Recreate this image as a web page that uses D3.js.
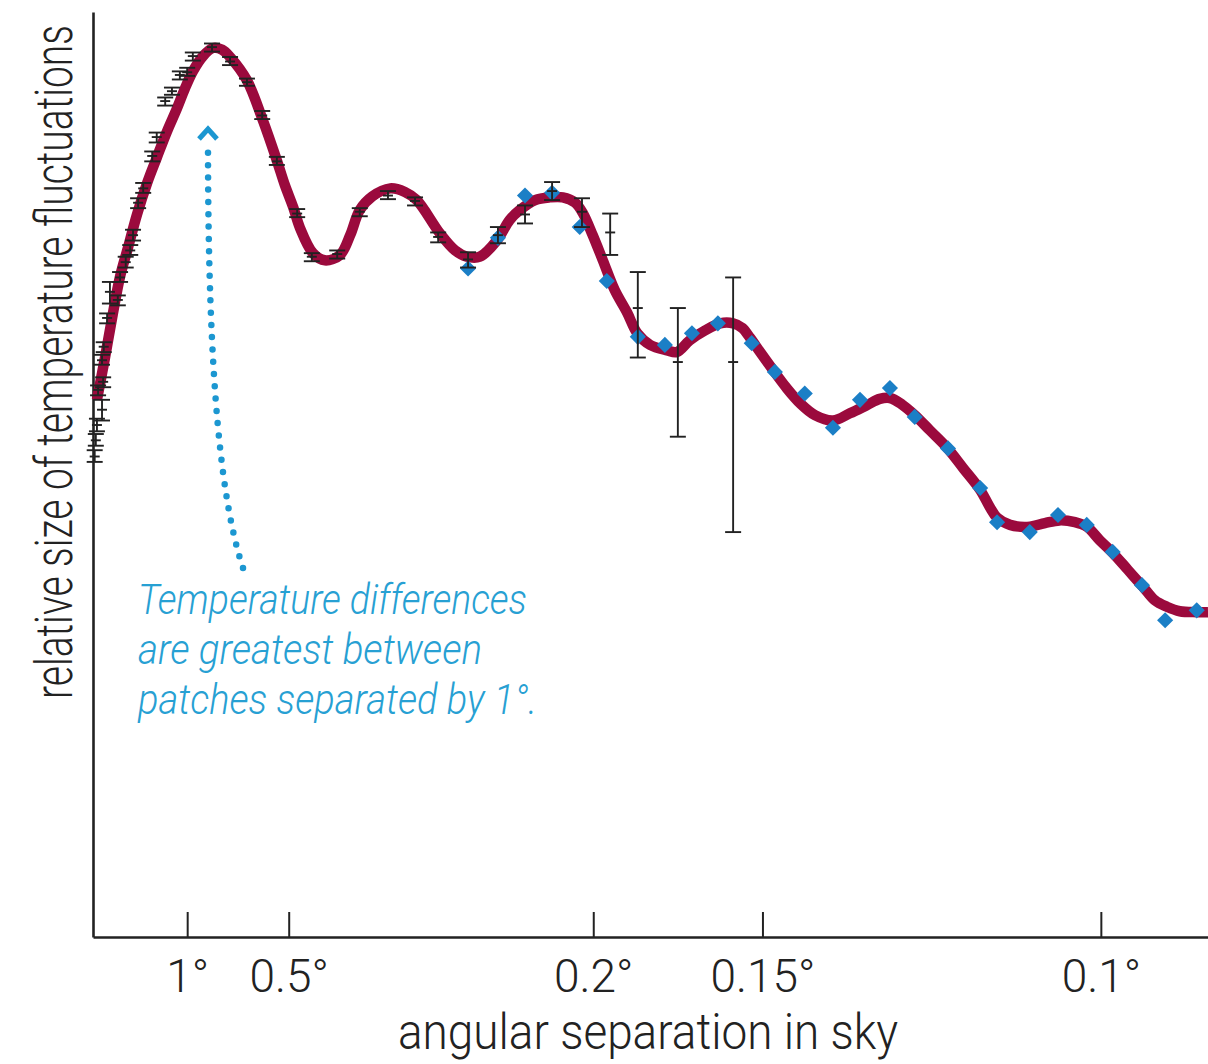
<!DOCTYPE html>
<html>
<head>
<meta charset="utf-8">
<script src="https://cdn.jsdelivr.net/npm/d3@7"></script>
<style>
  body { margin: 0; background: #fff; }
  svg text { font-family: Roboto, "Liberation Sans", sans-serif; font-weight: 300; }
</style>
</head>
<body>
<div id="chart"></div>
<script>
const width = 1208,
  height = 1064;

// model curve: multipole ell vs relative amplitude
const curveEll = [20, 34, 48, 61, 75, 91, 109, 126, 144, 162, 176, 190, 208, 226, 242, 256, 286, 314, 339, 353,
  368, 380, 403, 424, 451, 469, 486, 508, 540, 566, 587, 628, 655, 676, 699, 729, 752, 770, 797, 823,
  846, 868, 882, 899, 917, 938, 960, 978, 1001, 1031, 1048, 1071, 1098, 1125, 1148, 1164, 1178, 1196, 1219, 1243,
  1267, 1293, 1325, 1355, 1385, 1408, 1426, 1447, 1470, 1497, 1527, 1556, 1586, 1603, 1616, 1639, 1674, 1701, 1727, 1754,
  1775, 1798, 1821, 1848, 1875, 1896, 1917, 1940, 1970, 1990];
const curveVal = [59.7, 64.3, 69.2, 73.4, 76.6, 80.3, 83.8, 86.6, 89.5, 92.1, 94.3, 96.2, 97.9, 98.8, 98.6, 97.8, 95.2, 90.8, 86.3, 83.6,
  81.1, 78.8, 76.0, 75.2, 75.8, 78.0, 80.8, 82.3, 83.2, 82.8, 81.9, 78.2, 76.3, 75.6, 75.6, 77.4, 79.7, 80.8, 81.9, 82.2,
  82.2, 81.6, 80.4, 78.0, 75.2, 71.9, 69.4, 67.1, 65.8, 65.2, 65.0, 66.3, 67.4, 68.2, 68.2, 67.7, 66.6, 65.0, 63.0, 61.0,
  59.3, 58.0, 57.4, 58.2, 59.1, 59.8, 59.9, 59.2, 58.0, 56.3, 54.4, 52.1, 49.7, 47.8, 46.6, 45.8, 45.6, 46.0, 46.3, 46.1,
  45.6, 44.1, 42.7, 40.8, 38.9, 37.4, 36.7, 36.2, 36.1, 36.1];

// earlier measurements with error bars
const barEll = [16, 18, 20, 29, 22, 31, 29, 32, 38, 43, 57, 61, 71, 79, 84, 93, 102, 118, 126, 141,
  153, 167, 180, 190, 224, 256, 286, 313, 339, 375, 401, 446, 486, 536, 584, 625, 678, 731, 779, 827,
  880, 930, 979, 1050, 1148];
const barVal = [53.4, 55.2, 56.9, 58.6, 60.8, 61.7, 64.1, 65.6, 68.8, 71.7, 70.8, 73.3, 75.0, 76.3, 78.0, 81.6, 83.2, 86.8, 88.9, 92.9,
  94.0, 95.8, 96.1, 97.9, 98.9, 97.3, 95.0, 91.3, 86.2, 80.4, 75.6, 75.9, 80.6, 82.4, 81.8, 77.8, 75.3, 78.0, 80.3, 82.9,
  80.6, 78.3, 69.9, 63.9, 63.9];
const barHi = [54.1, 55.9, 57.6, 59.7, 61.3, 62.2, 64.7, 66.1, 69.3, 72.8, 71.3, 73.9, 75.6, 76.9, 78.6, 82.1, 83.8, 87.3, 89.4, 93.3,
  94.4, 96.2, 96.6, 98.3, 99.3, 97.8, 95.4, 91.8, 86.7, 80.9, 76.0, 76.3, 81.0, 82.9, 82.2, 78.3, 76.1, 78.9, 81.3, 83.9,
  82.1, 80.4, 73.9, 69.9, 73.3];
const barLo = [52.8, 54.6, 56.2, 57.4, 60.2, 61.1, 63.6, 65.0, 68.2, 70.4, 70.2, 72.8, 74.4, 75.8, 77.4, 81.0, 82.7, 86.2, 88.3, 92.4,
  93.6, 95.3, 95.7, 97.4, 98.4, 96.9, 94.6, 90.9, 85.8, 80.0, 75.1, 75.4, 80.1, 82.0, 81.3, 77.2, 74.4, 77.1, 79.3, 81.9,
  78.9, 75.8, 64.4, 55.6, 45.0];

// newer measurements (diamonds)
const dotEll = [678, 731, 779, 827, 876, 924, 979, 1027, 1075, 1121, 1181, 1222, 1275, 1325, 1373, 1426, 1470, 1529, 1586, 1616,
  1674, 1724, 1775, 1821, 1873, 1914, 1970];
const dotVal = [74.3, 77.7, 82.4, 82.7, 78.9, 72.9, 66.7, 65.8, 67.1, 68.2, 66.0, 62.8, 60.4, 56.6, 59.7, 61.0, 57.8, 54.3, 49.9, 46.1,
  45.0, 46.9, 45.8, 42.8, 39.1, 35.2, 36.3];

// tick angles in degrees (ell = 180 / angle)
const tickAngles = [1, 0.5, 0.2, 0.15, 0.1];
const noteLines = ["Temperature differences", "are greatest between", "patches separated by 1°."];

const x = d3.scaleLinear().domain([13, 1990]).range([93, 1208]);
const y = d3.scaleLinear().domain([0, 102.8]).range([937, 12]);

const svg = d3
  .select("#chart")
  .append("svg")
  .attr("width", width)
  .attr("height", height);

// axes
const xAxis = svg
  .append("g")
  .attr("transform", "translate(0," + y(0) + ")")
  .call(
    d3
      .axisBottom(x)
      .tickValues(tickAngles.map((a) => 180 / a))
      .tickFormat((d) => +(180 / d).toFixed(2) + "°")
      .tickSizeInner(-25)
      .tickSizeOuter(0)
  );
xAxis.select(".domain").attr("stroke", "#222").attr("stroke-width", 2.6);
xAxis.selectAll(".tick line").attr("stroke", "#222").attr("stroke-width", 2);
xAxis
  .selectAll(".tick text")
  .attr("y", 55)
  .attr("dy", null)
  .attr("fill", "#222")
  .style("font-size", "46px");

const yAxis = svg
  .append("g")
  .attr("transform", "translate(" + x(13) + ",0)")
  .call(d3.axisLeft(y).tickValues([]).tickSizeOuter(0));
yAxis.select(".domain").attr("stroke", "#222").attr("stroke-width", 2.6);

// axis titles
svg
  .append("text")
  .attr("x", 648)
  .attr("y", 1049)
  .attr("text-anchor", "middle")
  .attr("fill", "#222")
  .attr("textLength", 500)
  .attr("lengthAdjust", "spacingAndGlyphs")
  .style("font-size", "50px")
  .text("angular separation in sky");

// tall, narrow glyphs: scale perpendicular to the baseline
svg
  .append("text")
  .attr("transform", "translate(72,362) rotate(-90) scale(1,1.35)")
  .attr("text-anchor", "middle")
  .attr("fill", "#222")
  .style("font-size", "39px")
  .text("relative size of temperature fluctuations");

// model curve
const line = d3
  .line()
  .x((d) => x(d[0]))
  .y((d) => y(d[1]))
  .curve(d3.curveCatmullRom.alpha(0.5));

svg
  .append("path")
  .datum(curveEll.map((e, i) => [e, curveVal[i]]))
  .attr("d", line)
  .attr("fill", "none")
  .attr("stroke", "#9b0a3d")
  .attr("stroke-width", 10.5)
  .attr("stroke-linecap", "butt");

// diamonds
svg
  .selectAll(".dot")
  .data(dotEll.map((e, i) => [e, dotVal[i]]))
  .enter()
  .append("path")
  .attr("class", "dot")
  .attr("d", d3.symbol(d3.symbolSquare, 130))
  .attr("transform", (d) => "translate(" + x(d[0]) + "," + y(d[1]) + ") rotate(45)")
  .attr("fill", "#1b7fc6");

// error bars
const bars = svg
  .selectAll(".bar")
  .data(barEll.map((e, i) => ({ e: e, v: barVal[i], lo: barLo[i], hi: barHi[i] })))
  .enter()
  .append("g")
  .attr("class", "bar")
  .attr("stroke", "#222")
  .attr("stroke-width", 1.9);

bars
  .append("line")
  .attr("x1", (d) => x(d.e))
  .attr("x2", (d) => x(d.e))
  .attr("y1", (d) => y(d.hi))
  .attr("y2", (d) => y(d.lo));
bars
  .append("line")
  .attr("x1", (d) => x(d.e) - 8)
  .attr("x2", (d) => x(d.e) + 8)
  .attr("y1", (d) => y(d.hi))
  .attr("y2", (d) => y(d.hi));
bars
  .append("line")
  .attr("x1", (d) => x(d.e) - 8)
  .attr("x2", (d) => x(d.e) + 8)
  .attr("y1", (d) => y(d.lo))
  .attr("y2", (d) => y(d.lo));
bars
  .append("line")
  .attr("x1", (d) => x(d.e) - 5)
  .attr("x2", (d) => x(d.e) + 5)
  .attr("y1", (d) => y(d.v))
  .attr("y2", (d) => y(d.v));

// annotation: dotted arrow pointing at the first peak
const blue = "#1c97d1";
svg
  .append("path")
  .attr("d", "M243,568 C222,505 208,385 208,145")
  .attr("fill", "none")
  .attr("stroke", blue)
  .attr("stroke-width", 6.5)
  .attr("stroke-linecap", "round")
  .attr("stroke-dasharray", "0 12.3");
svg
  .append("path")
  .attr("d", "M199,139 L208,129 L217,139")
  .attr("fill", "none")
  .attr("stroke", blue)
  .attr("stroke-width", 5);

const noteWidths = [389, 344, 399];
svg
  .selectAll(".note")
  .data(noteLines)
  .enter()
  .append("text")
  .attr("class", "note")
  .attr("x", 138)
  .attr("y", (d, i) => 614 + i * 50)
  .attr("fill", "#27a0d3")
  .attr("textLength", (d, i) => noteWidths[i])
  .attr("lengthAdjust", "spacingAndGlyphs")
  .style("font-size", "43px")
  .style("font-style", "italic")
  .text((d) => d);
</script>
</body>
</html>
